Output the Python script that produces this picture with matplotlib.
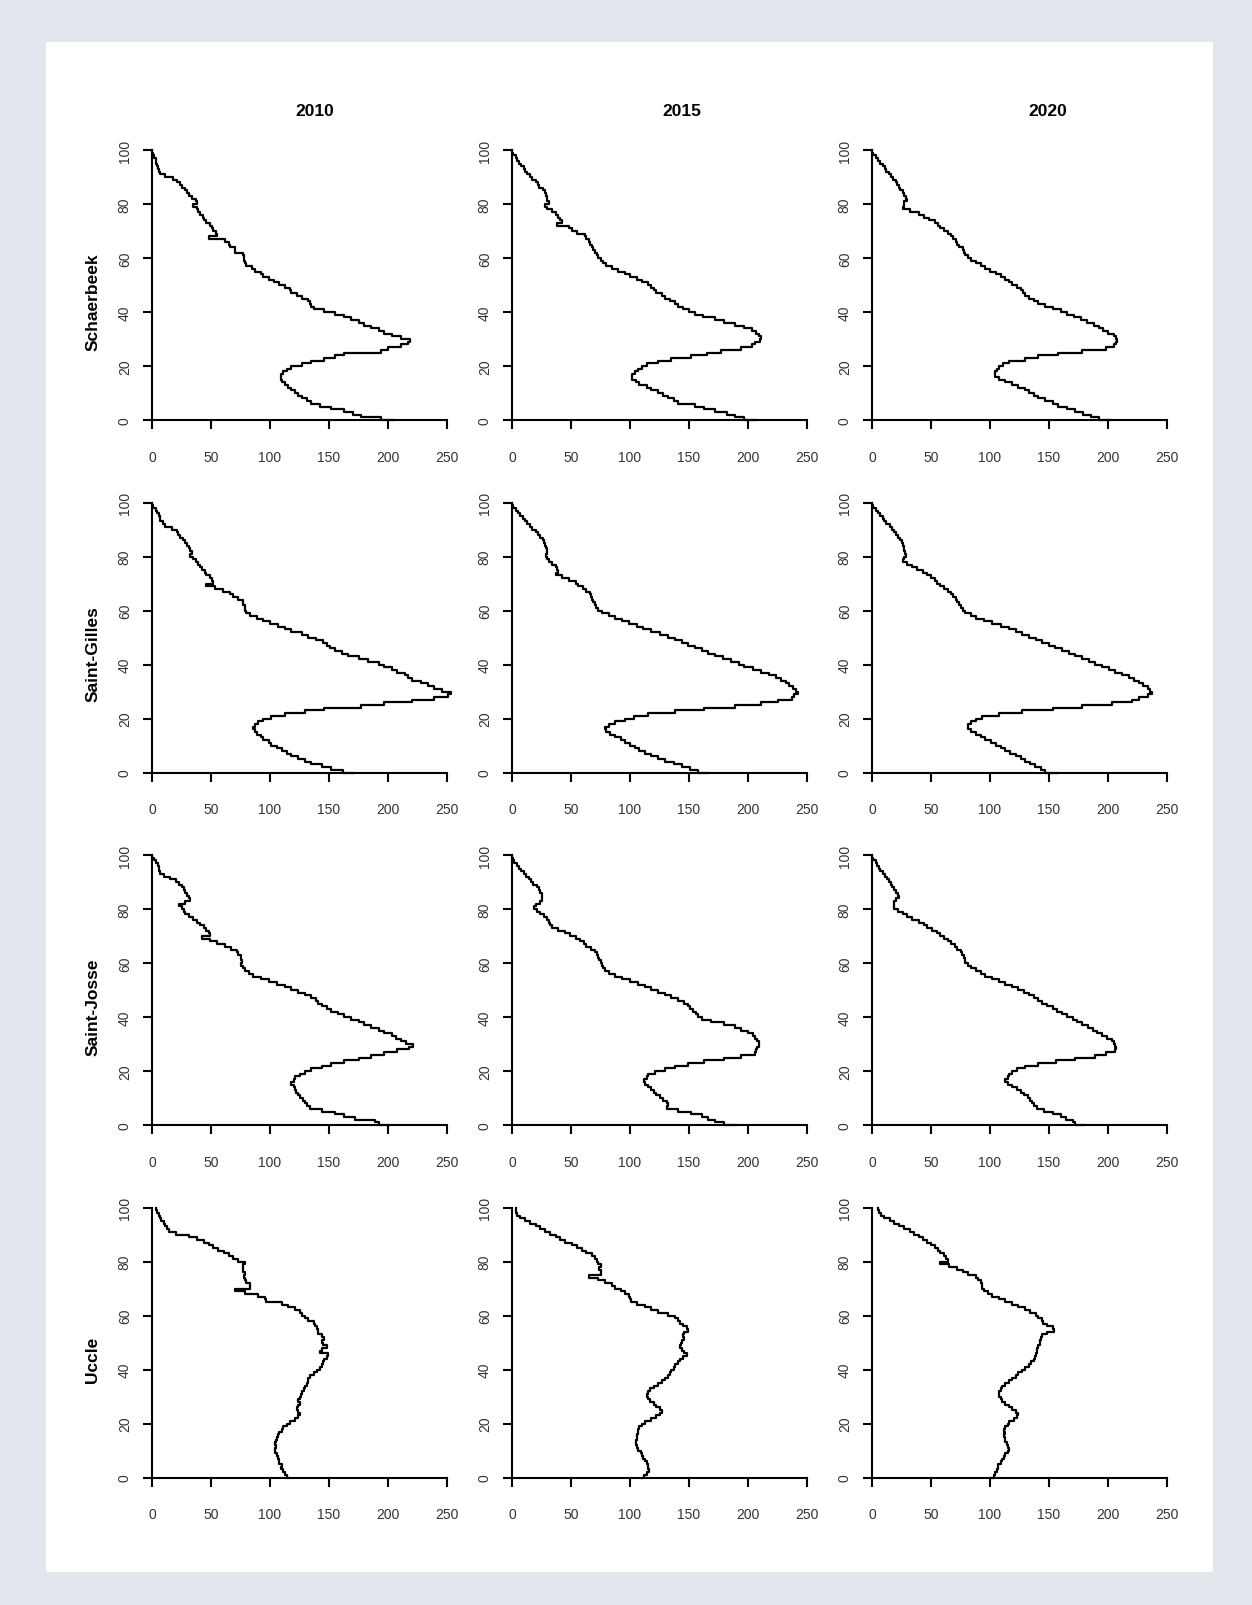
import matplotlib
matplotlib.use('Agg', force=True)

import numpy as np
import matplotlib.pyplot as plt
from matplotlib.patches import Rectangle

plt.rcParams['font.family'] = ['Liberation Sans', 'DejaVu Sans']

# colonnes / lignes du tableau de graphiques
years = ['2010', '2015', '2020']
communes = ['Schaerbeek', 'Saint-Gilles', 'Saint-Josse', 'Uccle']

# effectifs par âge (0 -> 100)
schaerbeek_2010 = [
    204, 194, 177, 170, 163, 152, 142, 135, 131, 127,
    124, 121, 118, 115, 113, 110, 109, 109, 111, 114,
    118, 127, 135, 146, 155, 163, 194, 200, 211, 217,
    219, 211, 203, 197, 192, 186, 180, 175, 169, 163,
    155, 146, 137, 135, 134, 132, 127, 123, 118, 117,
    113, 108, 103, 99, 94, 92, 87, 85, 80, 79,
    78, 78, 77, 70, 70, 66, 65, 62, 48, 55,
    54, 52, 51, 49, 46, 44, 43, 41, 39, 38,
    35, 38, 37, 34, 31, 30, 28, 25, 24, 21,
    18, 11, 7, 6, 5, 4, 3, 3, 2, 1, 0]
schaerbeek_2015 = [
    207, 197, 189, 182, 172, 163, 155, 141, 137, 132,
    128, 124, 118, 114, 108, 105, 102, 102, 104, 107,
    110, 114, 124, 135, 152, 165, 177, 194, 203, 206,
    210, 211, 209, 207, 203, 197, 189, 180, 172, 162,
    155, 150, 145, 141, 138, 134, 130, 127, 122, 120,
    118, 115, 110, 106, 100, 96, 90, 85, 80, 77,
    75, 73, 72, 70, 69, 68, 66, 65, 63, 62,
    55, 51, 48, 38, 42, 41, 39, 37, 34, 30,
    28, 31, 30, 30, 29, 28, 26, 23, 22, 20,
    17, 15, 13, 11, 10, 8, 6, 4, 3, 1, 0]
schaerbeek_2020 = [
    202, 192, 186, 179, 172, 165, 158, 153, 147, 141,
    137, 133, 130, 124, 119, 113, 108, 104, 104, 106,
    108, 111, 116, 130, 141, 158, 178, 198, 205, 207,
    208, 207, 205, 200, 196, 192, 188, 182, 177, 171,
    165, 160, 153, 147, 141, 137, 133, 130, 128, 126,
    123, 119, 116, 113, 109, 105, 100, 96, 92, 88,
    84, 81, 79, 78, 77, 74, 72, 71, 69, 67,
    64, 61, 58, 56, 53, 48, 44, 40, 32, 26,
    27, 27, 30, 29, 27, 26, 24, 23, 21, 20,
    18, 16, 14, 12, 11, 9, 7, 5, 3, 1, 0]

saint_gilles_2010 = [
    170, 162, 152, 144, 135, 130, 124, 118, 114, 110,
    106, 101, 99, 94, 92, 89, 87, 86, 87, 90,
    94, 101, 113, 130, 146, 177, 197, 220, 239, 251,
    253, 246, 239, 234, 228, 220, 217, 214, 208, 203,
    197, 192, 183, 175, 166, 161, 155, 151, 148, 145,
    139, 132, 127, 118, 113, 107, 100, 94, 89, 83,
    80, 79, 79, 77, 77, 73, 69, 66, 60, 53,
    46, 52, 51, 49, 46, 45, 42, 41, 39, 37,
    35, 32, 34, 32, 31, 30, 28, 26, 24, 22,
    21, 17, 11, 9, 7, 7, 6, 4, 3, 1, 0]
saint_gilles_2015 = [
    166, 158, 151, 144, 137, 130, 124, 118, 113, 108,
    104, 100, 96, 92, 87, 83, 80, 79, 82, 87,
    96, 103, 115, 138, 163, 189, 211, 225, 237, 239,
    242, 241, 238, 235, 232, 228, 224, 218, 211, 204,
    197, 192, 186, 179, 172, 166, 161, 155, 149, 144,
    138, 132, 125, 118, 111, 106, 99, 93, 87, 82,
    76, 73, 71, 70, 69, 68, 67, 66, 63, 60,
    56, 54, 48, 42, 37, 39, 38, 37, 34, 31,
    30, 29, 30, 30, 29, 28, 27, 26, 24, 22,
    20, 17, 15, 13, 11, 9, 7, 5, 3, 1, 0]
saint_gilles_2020 = [
    157, 147, 143, 138, 134, 130, 126, 122, 117, 113,
    109, 105, 101, 96, 92, 88, 84, 81, 81, 84,
    88, 93, 108, 127, 153, 178, 203, 220, 226, 234,
    237, 236, 234, 230, 226, 222, 218, 212, 206, 201,
    195, 189, 184, 178, 172, 167, 161, 155, 150, 144,
    139, 133, 127, 122, 116, 109, 102, 95, 88, 84,
    79, 77, 75, 74, 72, 71, 69, 67, 64, 61,
    58, 55, 53, 50, 47, 43, 38, 34, 30, 26,
    27, 29, 28, 27, 27, 26, 25, 24, 22, 20,
    19, 17, 15, 12, 10, 9, 7, 5, 3, 1, 0]

saint_josse_2010 = [
    201, 192, 189, 172, 163, 155, 144, 134, 131, 130,
    128, 125, 124, 122, 121, 120, 118, 120, 121, 125,
    130, 135, 144, 152, 163, 175, 186, 197, 208, 218,
    221, 215, 211, 207, 203, 197, 192, 186, 180, 175,
    169, 163, 158, 152, 148, 144, 141, 139, 135, 130,
    124, 118, 113, 106, 99, 92, 86, 82, 79, 77,
    75, 76, 75, 75, 73, 72, 67, 62, 55, 49,
    42, 49, 48, 46, 44, 41, 38, 35, 31, 28,
    27, 25, 23, 28, 32, 31, 30, 28, 27, 25,
    23, 20, 15, 10, 7, 6, 6, 5, 3, 2, 0]
saint_josse_2015 = [
    190, 180, 172, 166, 161, 152, 141, 131, 132, 131,
    128, 125, 122, 120, 118, 115, 113, 112, 114, 115,
    121, 130, 138, 149, 163, 180, 194, 206, 207, 208,
    209, 209, 208, 206, 204, 200, 194, 189, 180, 169,
    161, 158, 156, 153, 151, 149, 146, 141, 135, 130,
    124, 118, 113, 107, 100, 93, 87, 82, 79, 77,
    76, 75, 74, 73, 72, 70, 67, 63, 61, 58,
    54, 49, 45, 39, 34, 32, 31, 30, 27, 24,
    21, 19, 20, 24, 25, 25, 25, 24, 23, 21,
    18, 16, 14, 12, 10, 8, 6, 4, 2, 1, 0]
saint_josse_2020 = [
    180, 172, 170, 164, 160, 153, 146, 140, 137, 136,
    134, 132, 129, 126, 123, 119, 115, 113, 115, 116,
    119, 123, 130, 141, 156, 172, 189, 198, 206, 207,
    206, 205, 203, 199, 195, 191, 187, 183, 178, 174,
    170, 165, 161, 157, 153, 148, 144, 141, 137, 133,
    129, 124, 119, 113, 108, 102, 96, 92, 88, 84,
    81, 79, 79, 78, 76, 75, 72, 70, 67, 64,
    61, 58, 55, 51, 47, 44, 40, 34, 30, 26,
    22, 19, 19, 19, 20, 23, 22, 20, 19, 17,
    16, 14, 13, 11, 9, 7, 6, 4, 3, 1, 0]

uccle_2010 = [
    115, 114, 113, 111, 109, 110, 108, 108, 107, 106,
    104, 104, 105, 104, 105, 106, 107, 108, 110, 111,
    114, 117, 121, 124, 125, 124, 123, 124, 125, 124,
    125, 126, 127, 129, 130, 131, 132, 132, 134, 137,
    140, 142, 144, 145, 146, 148, 149, 142, 144, 148,
    145, 144, 146, 144, 141, 141, 140, 138, 137, 132,
    130, 127, 125, 121, 115, 110, 97, 96, 90, 79,
    70, 83, 83, 80, 79, 78, 79, 77, 77, 77,
    79, 73, 69, 65, 61, 56, 52, 48, 44, 38,
    31, 20, 14, 13, 11, 10, 8, 7, 6, 4, 3]
uccle_2015 = [
    110, 112, 114, 116, 115, 115, 114, 113, 111, 110,
    109, 107, 106, 105, 105, 106, 106, 107, 107, 108,
    110, 113, 118, 122, 125, 127, 125, 122, 120, 117,
    115, 114, 115, 117, 120, 124, 127, 130, 132, 134,
    135, 137, 138, 141, 142, 145, 148, 146, 144, 142,
    143, 144, 146, 145, 146, 149, 148, 145, 142, 141,
    138, 132, 124, 118, 113, 106, 101, 100, 99, 96,
    92, 87, 85, 79, 73, 65, 75, 75, 74, 75,
    73, 72, 70, 68, 63, 59, 55, 51, 45, 41,
    37, 32, 28, 24, 20, 15, 11, 7, 4, 3, 3]
uccle_2020 = [
    101, 103, 104, 106, 107, 107, 109, 110, 112, 113,
    115, 116, 115, 114, 113, 113, 112, 113, 112, 113,
    115, 116, 120, 123, 124, 122, 119, 116, 113, 110,
    109, 108, 108, 109, 110, 113, 116, 119, 122, 124,
    127, 130, 133, 135, 137, 138, 139, 140, 140, 141,
    142, 142, 143, 144, 148, 154, 153, 148, 145, 144,
    141, 139, 134, 130, 124, 119, 113, 108, 102, 98,
    95, 93, 93, 92, 90, 88, 81, 77, 72, 65,
    58, 64, 63, 61, 58, 56, 53, 50, 47, 43,
    40, 36, 32, 27, 23, 19, 15, 10, 8, 6, 5]

series = {
    'Schaerbeek': [schaerbeek_2010, schaerbeek_2015, schaerbeek_2020],
    'Saint-Gilles': [saint_gilles_2010, saint_gilles_2015, saint_gilles_2020],
    'Saint-Josse': [saint_josse_2010, saint_josse_2015, saint_josse_2020],
    'Uccle': [uccle_2010, uccle_2015, uccle_2020],
}

W, H = 1252, 1606
fig = plt.figure(figsize=(W / 100, H / 100), dpi=100, facecolor='#e3e6ed')

# cadre blanc
fig.add_artist(Rectangle((46 / W, 1 - 1573 / H), (1213 - 46) / W, (1573 - 43) / H,
                         transform=fig.transFigure, facecolor='white',
                         edgecolor='none', zorder=0))

col_left = [152, 512, 872]
title_x = [315, 682, 1048]
row_top0, row_step = 151, 352.5
aw, ah = 295, 270

for c, yr in enumerate(years):
    fig.text(title_x[c] / W, 1 - 111 / H, yr, ha='center', va='center',
             fontsize=12.5, fontweight='bold')

for r, name in enumerate(communes):
    top = row_top0 + r * row_step
    fig.text(93 / W, 1 - (top + 151) / H, name, rotation=90, ha='center',
             va='center', fontsize=12.5, fontweight='bold')
    for c, yr in enumerate(years):
        vals = series[name][c]
        ages = np.arange(len(vals))
        ax = fig.add_axes([col_left[c] / W, 1 - (top + ah) / H, aw / W, ah / H])
        ax.patch.set_alpha(0)
        ax.plot(vals, ages, drawstyle='steps-post', color='black', lw=1.6,
                clip_on=False)
        ax.set_xlim(0, 250)
        ax.set_ylim(0, 100)
        ax.set_xticks(range(0, 251, 50))
        ax.set_yticks(range(0, 101, 20))
        for s in ['top', 'right']:
            ax.spines[s].set_visible(False)
        for s in ['left', 'bottom']:
            ax.spines[s].set_linewidth(1.5)
        ax.tick_params(direction='out', length=6.5, width=1.5,
                       labelsize=10, labelcolor='#333333')
        ax.tick_params(axis='x', pad=15)
        ax.tick_params(axis='y', pad=8, labelrotation=90)
        for lab in ax.get_yticklabels():
            lab.set_va('center')

fig.savefig('out.png', dpi=100, facecolor=fig.get_facecolor())
